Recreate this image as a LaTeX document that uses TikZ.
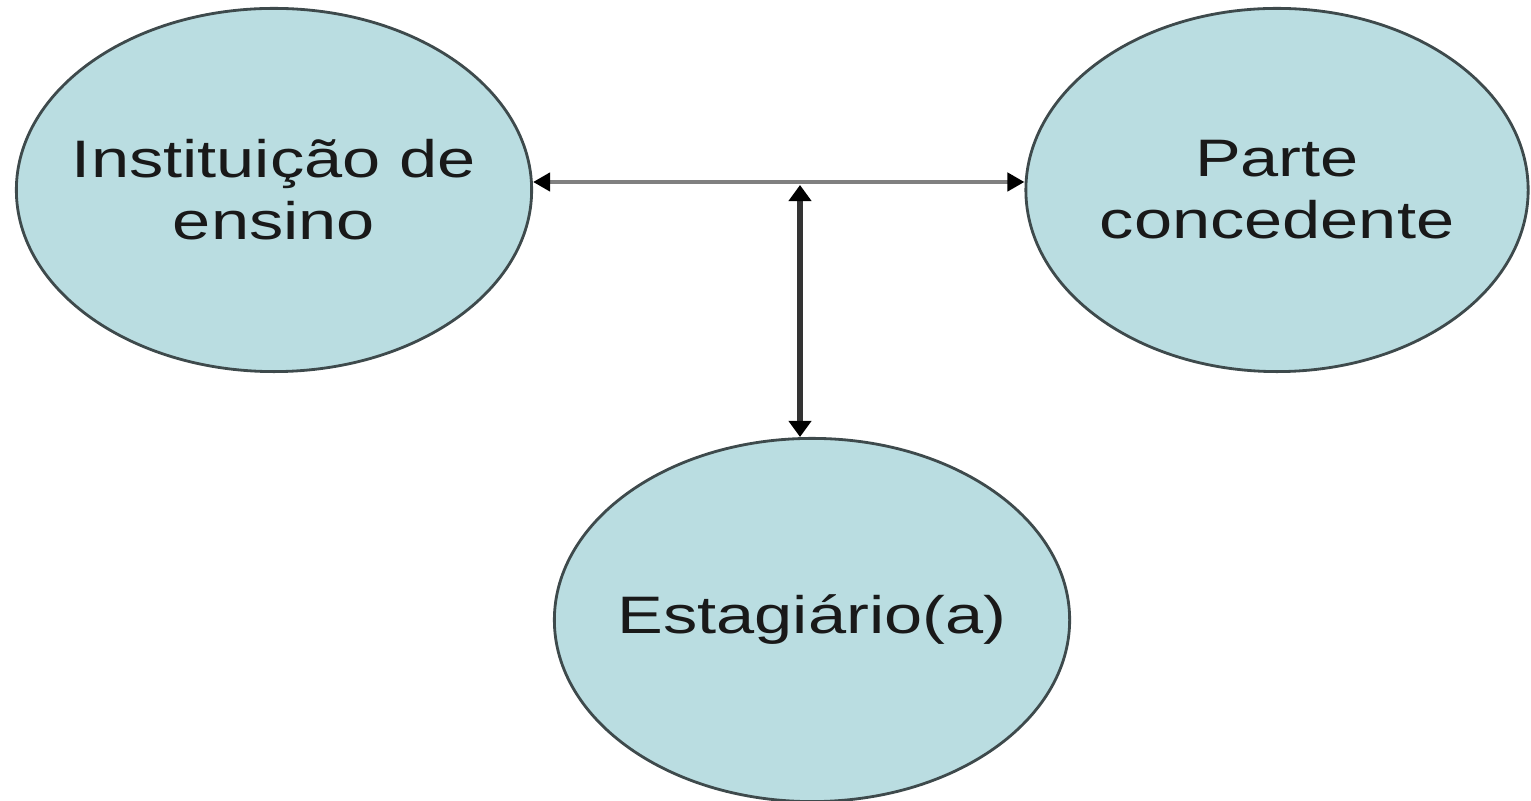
\documentclass[tikz,border=0pt]{standalone}
\usepackage{fontspec}
\setmainfont{Liberation Sans}
\usepackage{graphicx}
\usetikzlibrary{arrows.meta,shapes.geometric}
\definecolor{ovalfill}{RGB}{186,221,225}
\definecolor{ovaldraw}{RGB}{62,74,76}
\newcommand{\wtxt}[1]{\scalebox{1.3}[1]{#1}}

\begin{document}
\begin{tikzpicture}[
    x=0.01cm, y=-0.01cm,
    ov/.style={ellipse, draw=ovaldraw, line width=0.8pt, fill=ovalfill,
               minimum width=5.15cm, minimum height=3.63cm, inner sep=0pt},
    tx/.style={align=center, text=black!90,
               font=\fontsize{15}{17.6}\selectfont},
    hl/.style={black!50, line width=1.2pt,
               {Triangle[color=black, length=1.7mm, width=1.8mm]}-{Triangle[color=black, length=1.7mm, width=1.8mm]}},
    vl/.style={black!80, line width=1.8pt,
               {Triangle[color=black, length=1.6mm, width=2.2mm]}-{Triangle[color=black, length=1.6mm, width=2.2mm]}},
  ]
  \useasboundingbox (0,0) rectangle (1531,801);
  \node[ov] (inst) at (274, 190) {};
  \node[ov, minimum width=5.02cm] (parte) at (1277, 190) {};
  \node[ov] (estag) at (812, 620) {};
  \node[tx] (inst-t) at (inst) {\wtxt{Instituição de}\\\wtxt{ensino}};
  \node[tx] (parte-t) at (parte) {\wtxt{Parte}\\\wtxt{concedente}};
  \node[tx] (estag-t) at (estag) {\wtxt{Estagiário(a)}};
  \coordinate (mid) at (800, 182);
  \draw[hl] (inst.east |- mid) -- (parte.west |- mid);
  \draw[vl] ([yshift=-0.03cm]mid) -- (mid |- estag.north);
\end{tikzpicture}
\end{document}
